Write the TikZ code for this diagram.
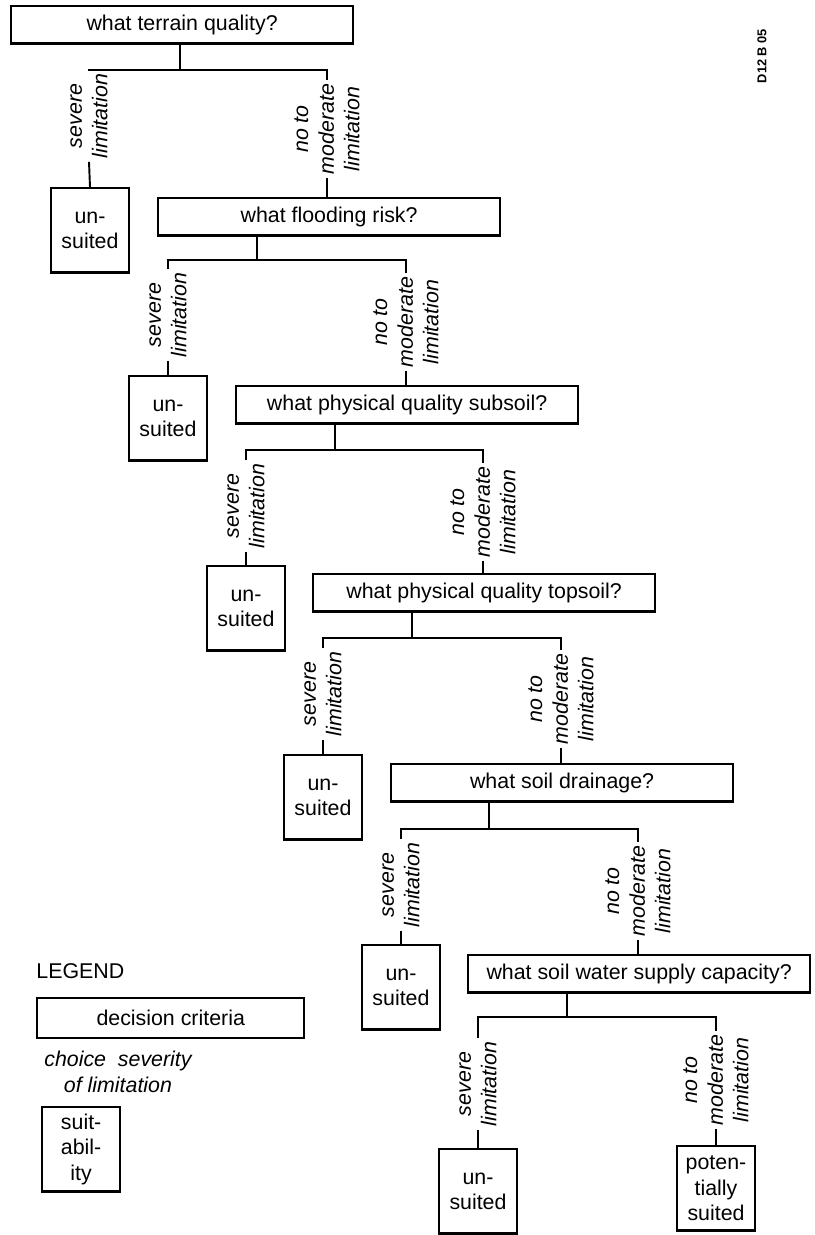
\documentclass[tikz,border=0pt]{standalone}
\usepackage{fontspec}
\setmainfont{Liberation Sans}
\usetikzlibrary{positioning}

\begin{document}
\begin{tikzpicture}[
  x=0.468pt, y=-0.468pt,
  qbox/.style={draw, line width=1.1pt, minimum width=160pt, minimum height=17.5pt,
               inner sep=0pt, anchor=north west},
  verdict/.style={draw, line width=1.1pt, minimum width=36.5pt, minimum height=39.5pt,
                  inner sep=0pt, align=center, anchor=north},
  choice/.style={rotate=90, align=center, font=\itshape, inner sep=1.5pt},
  link/.style={line width=0.9pt}
]
  \useasboundingbox (0,0) rectangle (814,1235);

  % Decision questions
  \node[qbox] (terrain) at (10,5) {what terrain quality?};
  \node[qbox] (flood) at (157,197) {what flooding risk?};
  \node[qbox] (subsoil) at (235,385) {what physical quality subsoil?};
  \node[qbox] (topsoil) at (312,573) {what physical quality topsoil?};
  \node[qbox] (drain) at (390,763) {what soil drainage?};
  \node[qbox] (water) at (467,954) {what soil water supply capacity?};

  % Branch points
  \coordinate (jTerrain) at (180,70);
  \coordinate (jFlood) at (257,260);
  \coordinate (jSubsoil) at (335,450);
  \coordinate (jTopsoil) at (412,638);
  \coordinate (jDrain) at (489,829);
  \coordinate (jWater) at (567,1017);

  % Outcomes
  \node[verdict] (unTerrain) at (90,187) {un-\\suited};
  \node[verdict] (unFlood) at (168,375) {un-\\suited};
  \node[verdict] (unSubsoil) at (246,565) {un-\\suited};
  \node[verdict] (unTopsoil) at (323,754) {un-\\suited};
  \node[verdict] (unDrain) at (401,944) {un-\\suited};
  \node[verdict] (unWater) at (478,1148) {un-\\suited};
  \node[verdict] (potSuited) at (716,1145) {poten-\\tially\\suited};

  % Choice labels
  \node[choice] (sevTerrain) at (89,116) {severe\\limitation};
  \node[choice] (modTerrain) at (327,129) {no to\\moderate\\limitation};
  \node[choice] (sevFlood) at (168,315) {severe\\limitation};
  \node[choice] (modFlood) at (406,322) {no to\\moderate\\limitation};
  \node[choice] (sevSubsoil) at (246,506) {severe\\limitation};
  \node[choice] (modSubsoil) at (483,512) {no to\\moderate\\limitation};
  \node[choice] (sevTopsoil) at (323,694) {severe\\limitation};
  \node[choice] (modTopsoil) at (561,699) {no to\\moderate\\limitation};
  \node[choice] (sevDrain) at (401,885) {severe\\limitation};
  \node[choice] (modDrain) at (638,891) {no to\\moderate\\limitation};
  \node[choice] (sevWater) at (478,1084) {severe\\limitation};
  \node[choice] (modWater) at (716,1080) {no to\\moderate\\limitation};

  % Stems and bars
  \draw[link] (terrain.south -| jTerrain) -- (jTerrain);
  \draw[link] (sevTerrain.east) |- (jTerrain) -| (modTerrain.east);
  \draw[link] (sevTerrain.west) -- (unTerrain.north);
  \draw[link] (modTerrain.west) -- (modTerrain.west |- flood.north);

  \draw[link] (flood.south -| jFlood) -- (jFlood);
  \draw[link] (sevFlood.east) |- (jFlood) -| (modFlood.east);
  \draw[link] (sevFlood.west) -- (unFlood.north);
  \draw[link] (modFlood.west) -- (modFlood.west |- subsoil.north);

  \draw[link] (subsoil.south -| jSubsoil) -- (jSubsoil);
  \draw[link] (sevSubsoil.east) |- (jSubsoil) -| (modSubsoil.east);
  \draw[link] (sevSubsoil.west) -- (unSubsoil.north);
  \draw[link] (modSubsoil.west) -- (modSubsoil.west |- topsoil.north);

  \draw[link] (topsoil.south -| jTopsoil) -- (jTopsoil);
  \draw[link] (sevTopsoil.east) |- (jTopsoil) -| (modTopsoil.east);
  \draw[link] (sevTopsoil.west) -- (unTopsoil.north);
  \draw[link] (modTopsoil.west) -- (modTopsoil.west |- drain.north);

  \draw[link] (drain.south -| jDrain) -- (jDrain);
  \draw[link] (sevDrain.east) |- (jDrain) -| (modDrain.east);
  \draw[link] (sevDrain.west) -- (unDrain.north);
  \draw[link] (modDrain.west) -- (modDrain.west |- water.north);

  \draw[link] (water.south -| jWater) -- (jWater);
  \draw[link] (sevWater.east) |- (jWater) -| (modWater.east);
  \draw[link] (sevWater.west) -- (unWater.north);
  \draw[link] (modWater.west) -- (potSuited.north);

  % Legend
  \node[anchor=base west, inner sep=0pt] (legend) at (36,978) {LEGEND};
  \node[qbox, minimum width=125pt, minimum height=18.7pt,
        below=8.4pt of legend.south west, anchor=north west] (critBox) {decision criteria};
  \node[align=center, font=\itshape, inner sep=0pt] (choiceKey) at (118,1072)
    {choice\ \ severity\\of limitation};
  \node[verdict, anchor=north west] (suitKey) at (41,1106) {suit-\\abil-\\ity};

  \node[rotate=90, font=\fontsize{6}{7}\selectfont\bfseries] (code) at (762,56) {D12 B 05};
\end{tikzpicture}
\end{document}
